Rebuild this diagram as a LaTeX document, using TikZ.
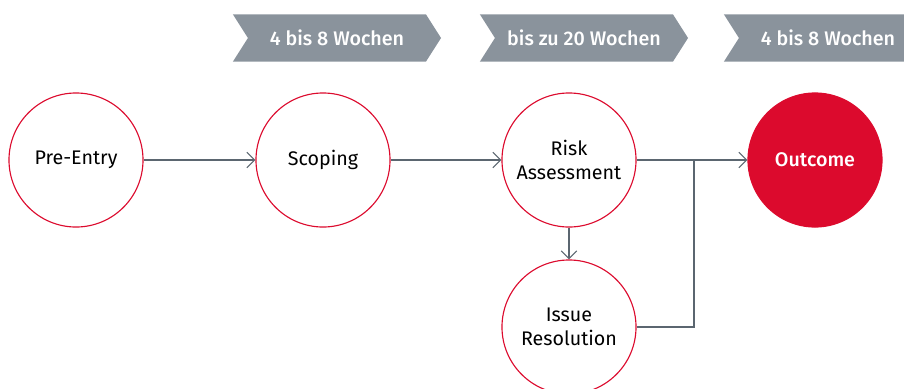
\documentclass[tikz,border=0pt]{standalone}
\usepackage{fontspec}
\setmainfont{Fira Sans}[BoldFont={Fira Sans Medium}]
\usetikzlibrary{shapes.symbols,arrows.meta}
\definecolor{brandred}{HTML}{DC0A2D}
\definecolor{chevgray}{HTML}{8A939C}
\definecolor{linegray}{HTML}{5B6670}

\begin{document}
\begin{tikzpicture}[x=0.025cm,y=-0.025cm,
    phase/.style={circle,draw=brandred,line width=0.8pt,minimum size=3.35cm,inner sep=0pt,align=center,font=\fontsize{14}{17}\selectfont},
    final/.style={phase,fill=brandred,text=white,font=\fontsize{14}{17}\selectfont\bfseries},
    duration/.style={signal,signal from=west,signal to=east,signal pointer angle=115,fill=chevgray,text=white,minimum width=5.2cm,minimum height=1.175cm,inner sep=0pt,font=\fontsize{14}{17}\selectfont\bfseries},
    flow/.style={draw=linegray,line width=0.8pt,-{Straight Barb[length=5.5pt,width=11pt]}}]
            \useasboundingbox (0,0) rectangle (904,389);
            \clip (0,0) rectangle (904,389);
            % durations
            \node[duration] (d1) at (337,38) {4 bis 8 Wochen};
            \node[duration] (d2) at (584,38) {bis zu 20 Wochen};
            \node[duration] (d3) at (828,38) {4 bis 8 Wochen};
            % phases
            \node[phase] (pre) at (76,160) {Pre-Entry};
            \node[phase] (scope) at (323,160) {Scoping};
            \node[phase] (risk) at (569,160) {Risk\\Assessment};
            \node[final] (out) at (815,160) {Outcome};
            \node[phase] (issue) at (569,327) {Issue\\Resolution};
            % connectors
            \draw[flow] (pre) -- (scope);
            \draw[flow] (scope) -- (risk);
            \draw[flow] (risk) -- (out);
            \draw[flow] (risk) -- (issue);
            \coordinate (join) at (694,160);
            \draw[draw=linegray,line width=0.8pt] (issue.east) -| (join);
\end{tikzpicture}
\end{document}
